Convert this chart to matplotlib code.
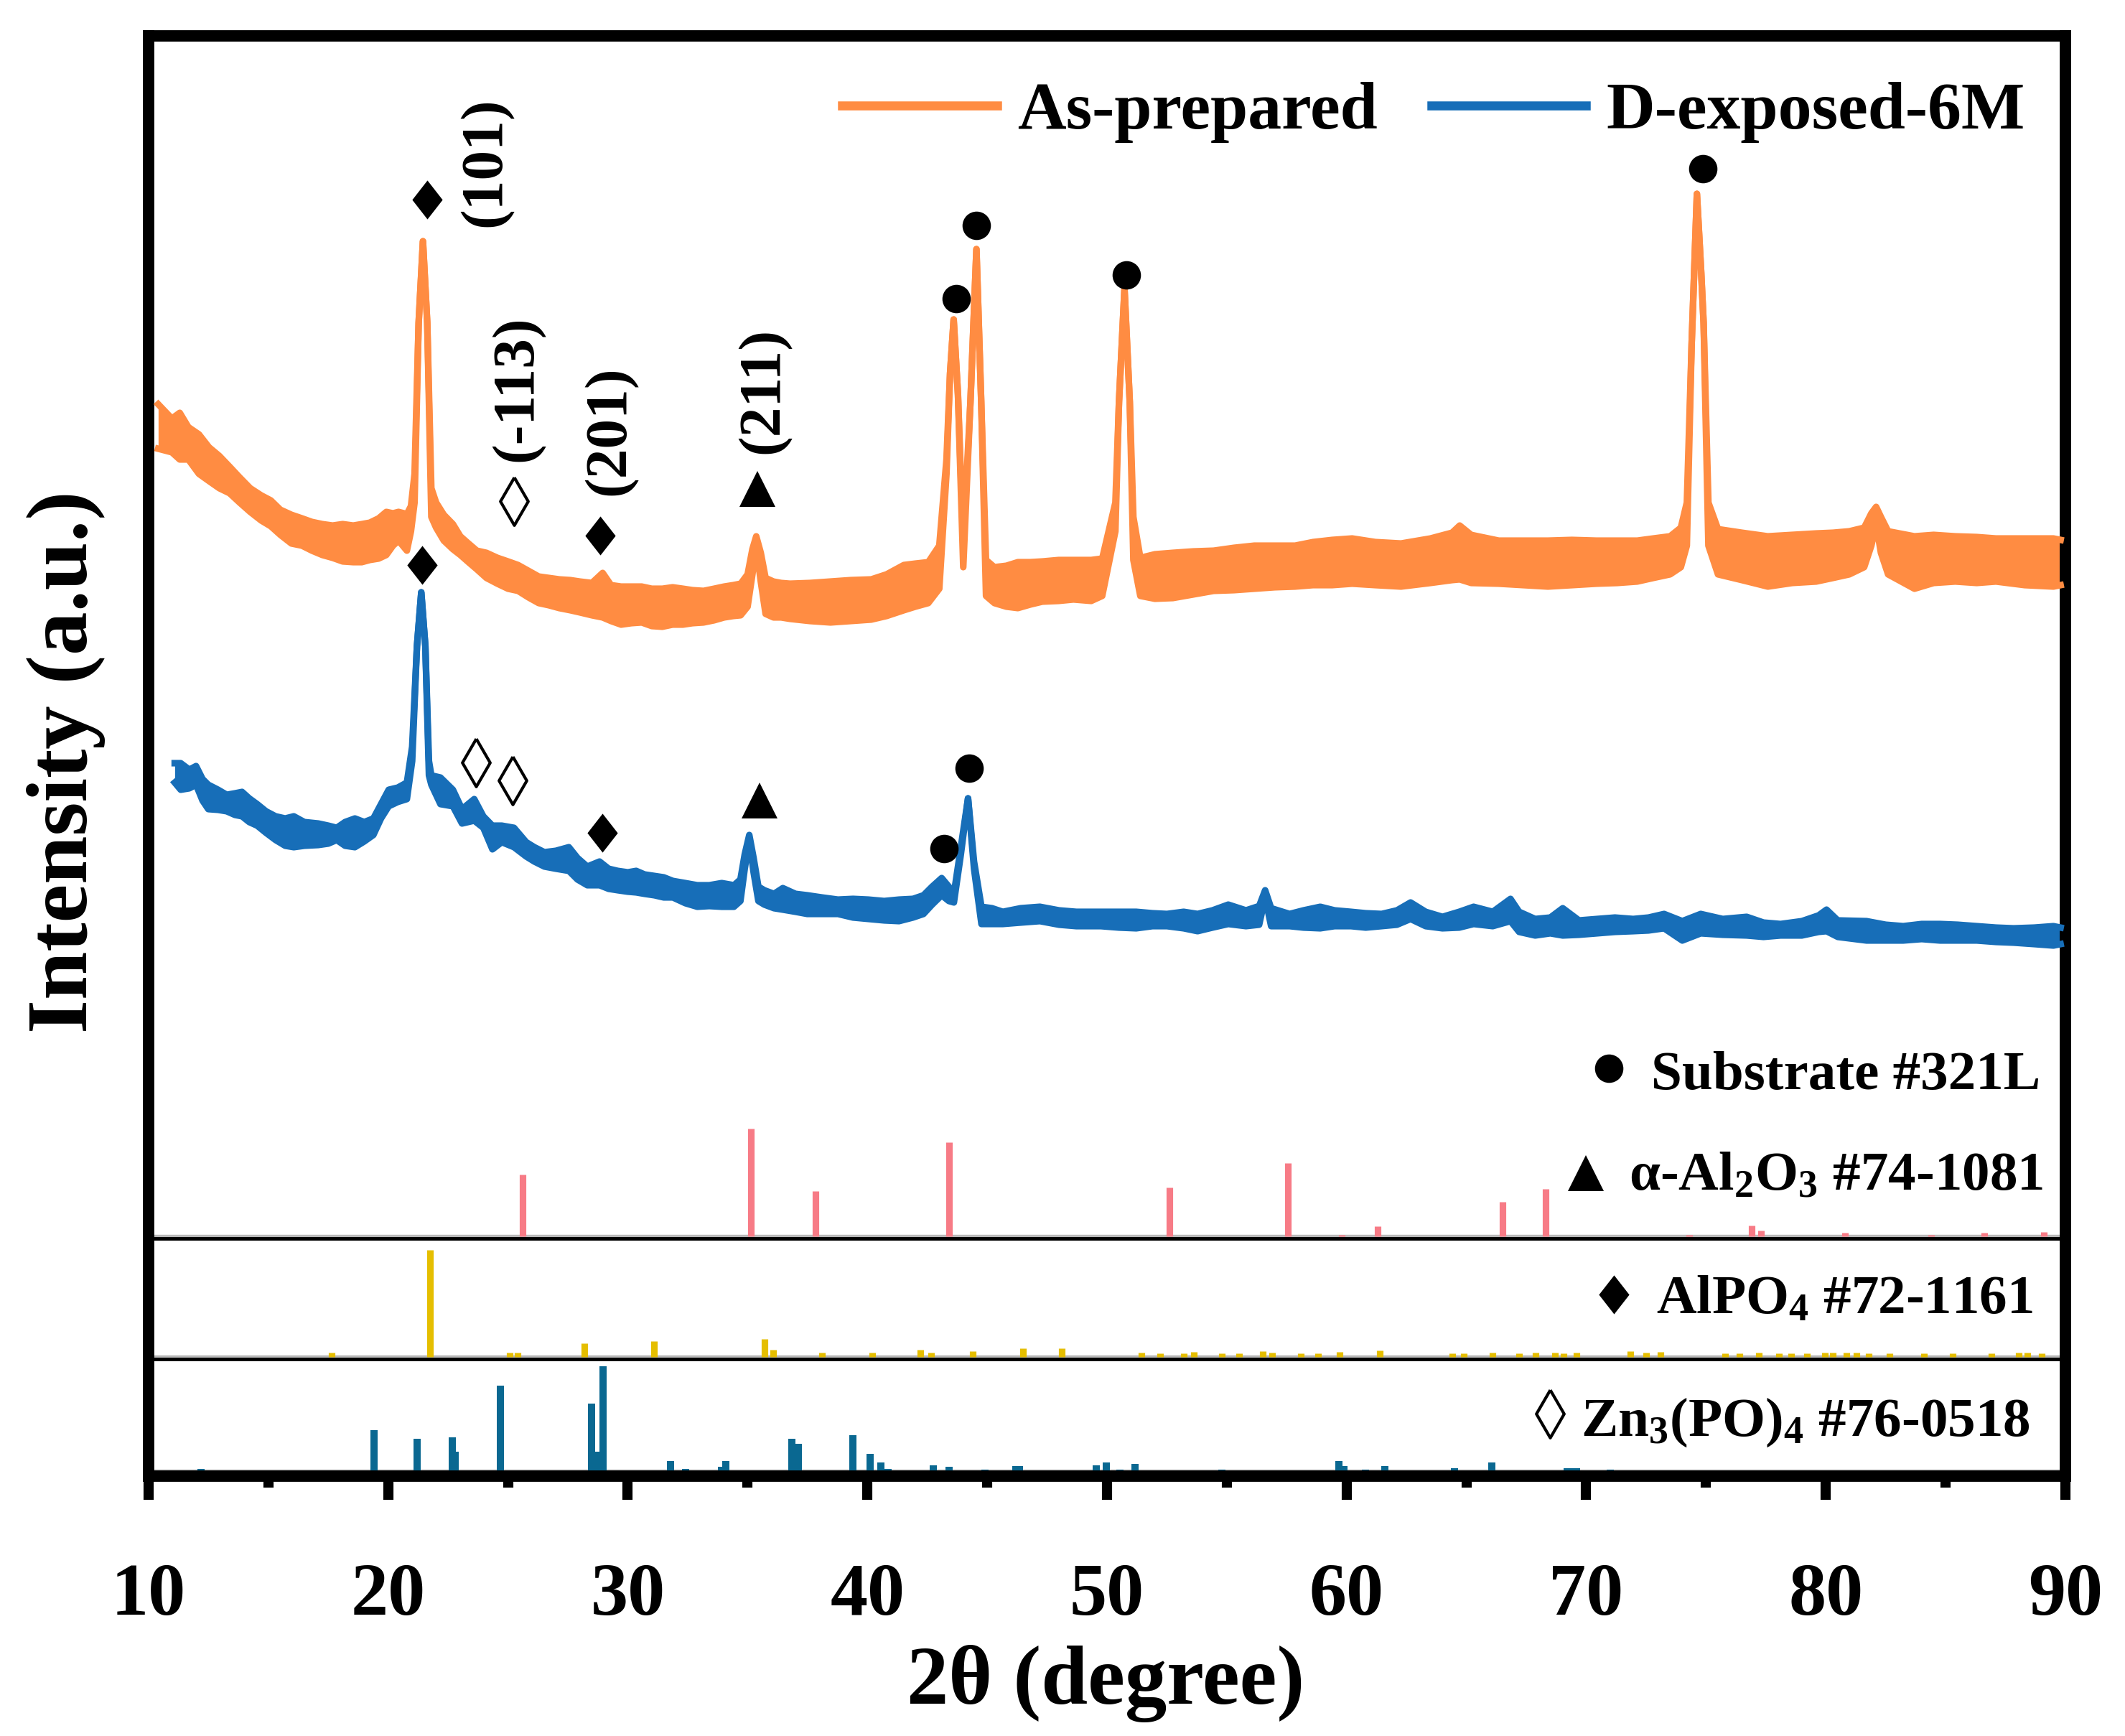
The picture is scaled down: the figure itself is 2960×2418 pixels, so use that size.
import numpy as np
import matplotlib.pyplot as plt
from matplotlib.lines import Line2D

plt.rcParams['font.family'] = 'Liberation Serif'
plt.rcParams['font.weight'] = 'bold'
plt.rcParams['mathtext.default'] = 'regular'

as_2theta = [10.4, 10.97, 11.3, 11.66, 12.1, 12.52, 12.95, 13.38, 13.8, 14.24,
             14.7, 15.1, 15.5, 15.96, 16.4, 16.82, 17.25, 17.68, 18.1, 18.54,
             18.9, 19.23, 19.6, 19.92, 20.2, 20.43, 20.78, 20.95, 21.1, 21.27,
             21.45, 21.63, 21.8, 22.0, 22.32, 22.7, 23.01, 23.35, 23.7, 24.1,
             24.56, 25.0, 25.42, 25.85, 26.28, 26.7, 27.14, 27.6, 28.0, 28.5,
             28.95, 29.3, 29.72, 30.15, 30.58, 31.0, 31.44, 31.87, 32.3, 32.7,
             33.16, 33.6, 34.02, 34.4, 34.71, 35.0, 35.2, 35.36, 35.55, 35.75,
             36.08, 36.4, 36.77, 37.6, 38.46, 39.3, 40.16, 40.8, 41.52, 42.0,
             42.54, 43.0, 43.3, 43.45, 43.6, 43.78, 44.0, 44.3, 44.55, 44.75,
             44.95, 45.3, 45.8, 46.28, 46.8, 47.3, 47.98, 48.6, 49.34, 49.8,
             50.35, 50.5, 50.73, 50.95, 51.1, 51.39, 52.0, 52.75, 53.6, 54.45,
             55.3, 56.15, 57.0, 57.85, 58.6, 59.4, 60.23, 61.2, 62.27, 63.5,
             64.4, 64.72, 65.2, 66.35, 67.4, 68.4, 69.4, 70.43, 71.3, 72.13,
             72.8, 73.5, 73.95, 74.2, 74.4, 74.62, 74.8, 74.9, 75.1, 75.5,
             76.5, 77.58, 78.6, 79.6, 80.3, 80.98, 81.6, 81.9, 82.1, 82.3,
             82.6, 83.7, 84.5, 85.4, 86.3, 87.1, 88.3, 89.5, 89.8]
as_hi = [115.9, 113.9, 114.7, 112.7, 111.7, 109.9, 108.7, 107.2, 105.7, 104.2,
         103.2, 102.5, 101.2, 100.5, 100.0, 99.5, 99.2, 99.0, 99.2, 99.0,
         99.2, 99.4, 100.0, 100.9, 100.7, 100.9, 100.6, 101.7, 106.2, 127.2,
         138.6, 127.2, 104.2, 102.2, 100.5, 99.2, 97.5, 96.5, 95.5, 95.2,
         94.5, 94.0, 93.5, 92.7, 91.9, 91.7, 91.5, 91.4, 91.2, 91.0,
         92.4, 90.7, 90.5, 90.5, 90.5, 90.2, 90.2, 90.4, 90.2, 90.0,
         89.9, 90.2, 90.5, 90.7, 90.9, 92.2, 95.7, 97.5, 95.2, 91.7,
         91.2, 91.0, 90.9, 91.0, 91.2, 91.4, 91.5, 92.2, 93.5, 93.7,
         93.9, 96.2, 108.2, 120.2, 127.7, 117.2, 96.7, 116.2, 137.5, 116.2,
         94.2, 93.2, 93.4, 93.9, 93.9, 94.0, 94.2, 94.2, 94.2, 94.4,
         102.2, 116.2, 132.0, 116.2, 100.2, 94.5, 95.0, 95.2, 95.4, 95.5,
         95.9, 96.2, 96.2, 96.2, 96.7, 97.0, 97.2, 96.7, 96.5, 97.2,
         98.0, 99.0, 97.7, 96.9, 96.9, 96.9, 97.0, 96.9, 96.9, 96.9,
         97.2, 97.5, 98.7, 102.2, 124.2, 145.2, 134.2, 127.2, 102.2, 98.5,
         98.0, 97.5, 97.7, 97.9, 98.0, 98.2, 98.7, 100.7, 101.6, 100.2,
         98.2, 97.5, 97.7, 97.5, 97.4, 97.2, 97.2, 97.2, 97.0]
as_lo = [109.7, 109.2, 108.2, 108.2, 106.2, 105.2, 104.2, 103.5, 102.2, 100.9,
         99.7, 98.9, 97.7, 96.5, 96.2, 95.5, 94.9, 94.5, 94.0, 93.9,
         93.9, 94.2, 94.4, 94.9, 96.2, 96.9, 95.5, 98.2, 102.2, 127.2,
         138.6, 127.2, 100.2, 98.7, 96.9, 95.7, 94.9, 93.9, 92.9, 91.7,
         90.9, 90.2, 89.9, 89.0, 88.2, 87.9, 87.5, 87.2, 86.9, 86.5,
         86.2, 85.7, 85.2, 85.4, 85.5, 85.0, 84.9, 85.2, 85.2, 85.4,
         85.5, 85.8, 86.2, 86.4, 86.5, 87.7, 92.2, 96.0, 91.2, 86.7,
         86.2, 86.2, 86.0, 85.7, 85.5, 85.7, 85.9, 86.4, 87.2, 87.7,
         88.2, 90.2, 106.2, 120.2, 127.7, 117.2, 93.2, 116.2, 137.5, 116.2,
         89.2, 88.2, 87.7, 87.5, 88.0, 88.4, 88.5, 88.7, 88.5, 89.2,
         98.2, 116.2, 132.0, 116.2, 94.2, 89.2, 88.8, 88.9, 89.4, 89.9,
         90.0, 90.2, 90.4, 90.5, 90.7, 90.7, 90.9, 90.7, 90.5, 91.0,
         91.4, 91.5, 91.0, 90.9, 90.7, 90.5, 90.7, 90.9, 91.0, 91.2,
         91.7, 92.2, 93.2, 96.2, 124.2, 145.2, 134.2, 127.2, 96.2, 92.2,
         91.4, 90.5, 91.0, 91.2, 91.7, 92.2, 93.2, 96.2, 99.2, 95.2,
         92.2, 90.2, 91.0, 91.2, 91.0, 91.2, 90.7, 90.5, 90.7]

d6_2theta = [11.09, 11.34, 11.7, 11.98, 12.25, 12.49, 12.9, 13.26, 13.6, 13.9,
             14.2, 14.53, 14.9, 15.3, 15.7, 16.06, 16.5, 17.08, 17.5, 17.85,
             18.2, 18.61, 19.0, 19.38, 19.7, 20.02, 20.4, 20.78, 21.0, 21.2,
             21.38, 21.55, 21.7, 21.8, 22.18, 22.7, 23.08, 23.59, 23.97, 24.35,
             24.74, 25.25, 25.76, 26.1, 26.52, 27.0, 27.54, 27.9, 28.31, 28.82,
             29.2, 29.58, 30.0, 30.35, 30.7, 31.11, 31.5, 31.88, 32.4, 32.9,
             33.4, 33.92, 34.43, 34.7, 34.88, 35.07, 35.25, 35.45, 35.7, 36.1,
             36.47, 37.0, 37.49, 38.1, 38.77, 39.4, 40.04, 40.7, 41.32, 41.9,
             42.34, 42.7, 43.1, 43.4, 43.61, 43.9, 44.2, 44.45, 44.76, 45.2,
             45.65, 46.4, 47.2, 48.0, 48.72, 49.74, 50.5, 51.22, 51.9, 52.5,
             53.2, 53.78, 54.4, 55.06, 55.8, 56.35, 56.6, 56.85, 57.62, 58.2,
             58.9, 59.5, 60.18, 60.8, 61.46, 62.1, 62.67, 63.3, 64.0, 64.7,
             65.3, 66.1, 66.84, 67.2, 67.87, 68.5, 69.02, 69.7, 70.43, 71.2,
             71.96, 72.6, 73.25, 74.01, 74.78, 75.7, 76.7, 77.4, 78.11, 79.0,
             79.7, 80.03, 80.5, 81.7, 82.5, 83.23, 84.0, 84.77, 85.5, 86.3,
             87.1, 87.84, 88.7, 89.5, 89.8]
d6_hi = [65.9, 65.9, 65.0, 65.5, 63.7, 62.9, 62.2, 61.5, 61.7, 61.9,
         61.0, 60.2, 59.2, 58.5, 58.2, 58.5, 57.7, 57.5, 57.2, 56.9,
         57.7, 58.2, 57.7, 58.2, 60.2, 62.2, 62.5, 63.2, 68.2, 82.2,
         89.7, 82.2, 66.2, 64.2, 63.9, 62.2, 59.5, 60.9, 58.5, 57.2,
         57.2, 56.9, 54.9, 54.2, 53.5, 53.7, 54.2, 52.7, 51.5, 52.2,
         51.2, 50.9, 50.7, 50.9, 50.4, 50.2, 50.0, 49.5, 49.2, 48.9,
         48.9, 49.2, 48.9, 49.7, 53.2, 55.9, 52.7, 48.7, 48.2, 47.7,
         48.5, 47.7, 47.5, 47.2, 46.9, 47.0, 46.9, 46.7, 46.9, 47.0,
         47.5, 48.7, 49.9, 48.7, 47.7, 54.2, 61.0, 52.2, 45.9, 45.7,
         45.2, 45.7, 45.9, 45.4, 45.2, 45.2, 45.2, 45.2, 45.0, 44.9,
         45.2, 44.9, 45.4, 46.2, 45.4, 46.0, 48.2, 45.7, 44.9, 45.4,
         45.9, 45.4, 45.2, 45.0, 44.9, 45.4, 46.5, 45.2, 44.5, 45.2,
         45.9, 45.2, 47.0, 45.2, 44.2, 44.4, 45.7, 44.0, 44.2, 44.4,
         44.2, 44.4, 44.9, 43.9, 44.9, 44.2, 44.5, 43.7, 43.5, 43.9,
         44.7, 45.5, 44.0, 43.9, 43.4, 43.2, 43.5, 43.5, 43.4, 43.2,
         43.0, 42.9, 43.0, 43.2, 43.0]
d6_lo = [63.2, 62.2, 62.4, 62.9, 60.7, 59.5, 59.4, 59.2, 58.7, 58.5,
         57.7, 57.2, 56.2, 55.2, 54.4, 54.2, 54.4, 54.5, 54.7, 55.2,
         54.4, 54.2, 55.0, 55.9, 58.2, 59.9, 60.5, 60.9, 66.2, 82.2,
         89.7, 82.2, 64.2, 62.9, 60.2, 59.9, 57.5, 57.9, 56.9, 53.9,
         54.9, 54.2, 52.9, 52.2, 51.5, 51.2, 50.9, 49.7, 48.9, 48.9,
         48.4, 48.2, 48.0, 47.9, 47.7, 47.5, 47.2, 47.2, 46.4, 45.9,
         46.0, 45.9, 45.9, 46.7, 51.2, 55.2, 50.7, 46.7, 46.2, 45.7,
         45.5, 45.2, 44.9, 44.9, 44.9, 44.4, 44.2, 44.0, 43.9, 44.4,
         44.9, 46.2, 47.5, 46.7, 46.5, 53.2, 61.0, 51.2, 43.5, 43.5,
         43.5, 43.7, 43.9, 43.4, 43.2, 43.2, 43.0, 42.9, 43.2, 43.2,
         42.9, 42.5, 43.0, 43.5, 43.2, 43.4, 47.2, 43.2, 43.2, 43.0,
         42.9, 43.2, 43.2, 43.0, 43.2, 43.4, 44.2, 43.2, 42.9, 43.0,
         43.5, 43.2, 43.9, 42.4, 41.9, 42.2, 41.9, 42.0, 42.2, 42.4,
         42.5, 42.6, 42.9, 41.2, 42.2, 42.0, 41.9, 41.7, 41.9, 41.9,
         42.4, 42.5, 41.7, 41.2, 41.2, 41.2, 41.4, 41.2, 41.2, 41.2,
         41.0, 40.9, 40.7, 40.5, 40.7]

# reference cards (stick positions and relative heights)
al2o3_pos = [25.6, 35.15, 37.84, 43.4, 52.6, 57.55, 59.8, 61.3, 66.5, 68.3,
             74.3, 76.9, 77.3, 80.8, 84.4, 86.6, 89.1]
al2o3_int = [8.6, 15.0, 6.3, 13.1, 6.8, 10.2, 0.2, 1.4, 4.8, 6.6,
             0.2, 1.5, 0.8, 0.5, 0.2, 0.5, 0.6]
alpo4_pos = [17.63, 21.75, 25.07, 25.4, 28.2, 31.1, 35.7, 36.07, 38.1, 40.2,
             42.2, 42.66, 44.4, 46.5, 48.1, 51.45, 52.23, 53.2, 53.63, 54.8,
             55.5, 56.5, 56.9, 58.1, 58.8, 59.7, 61.4, 64.4, 64.9, 66.1,
             67.2, 67.9, 68.7, 69.06, 69.6, 71.85, 72.5, 73.1, 75.8, 76.4,
             77.2, 78.05, 78.55, 79.2, 79.96, 80.3, 80.85, 81.27, 81.8, 82.66,
             84.1, 85.3, 86.9, 88.05, 88.4, 89.0]
alpo4_int = [0.6, 14.9, 0.6, 0.6, 1.9, 2.2, 2.5, 1.0, 0.6, 0.6,
             1.0, 0.6, 0.8, 1.2, 1.2, 0.6, 0.5, 0.5, 0.7, 0.5,
             0.5, 0.8, 0.6, 0.5, 0.5, 0.7, 0.9, 0.5, 0.5, 0.6,
             0.5, 0.6, 0.6, 0.5, 0.6, 0.8, 0.6, 0.7, 0.5, 0.5,
             0.6, 0.5, 0.5, 0.5, 0.6, 0.6, 0.6, 0.6, 0.5, 0.5,
             0.5, 0.5, 0.5, 0.6, 0.6, 0.5]
zn_pos = [12.2, 19.4, 21.2, 22.66, 22.8, 24.67, 28.5, 28.73, 28.97, 31.78,
          32.4, 33.9, 34.1, 36.85, 37.13, 39.4, 40.1, 40.56, 40.86, 42.75,
          43.4, 44.9, 46.2, 46.35, 49.55, 49.96, 50.54, 51.16, 54.8, 59.68,
          59.9, 60.8, 61.6, 64.5, 66.07, 69.2, 69.4, 69.6, 71.0]
zn_int = [0.3, 5.7, 4.5, 4.7, 2.7, 11.9, 9.4, 2.7, 14.6, 1.4,
          0.3, 0.6, 1.4, 4.5, 3.8, 5.0, 2.4, 1.2, 0.3, 0.85,
          0.6, 0.2, 0.7, 0.7, 0.85, 1.2, 0.2, 1.0, 0.2, 1.45,
          0.7, 0.2, 0.7, 0.4, 1.2, 0.4, 0.4, 0.4, 0.2]

# phase markers above the peaks
as_mark_x = [21.64, 25.25, 28.86, 35.4, 43.7, 44.56, 50.8, 74.87]
as_mark_y = [144.4, 102.4, 97.6, 104.1, 130.6, 140.8, 133.9, 148.7]
as_mark_kind = ['alpo4', 'zn', 'alpo4', 'al2o3', 'sub', 'sub', 'sub', 'sub']
d6_mark_x = [21.43, 23.66, 25.2, 28.94, 35.5, 43.2, 44.25]
d6_mark_y = [93.5, 66.0, 63.5, 56.2, 60.7, 54.0, 65.2]
d6_mark_kind = ['alpo4', 'zn', 'zn', 'alpo4', 'al2o3', 'sub', 'sub']
hkl_labels = ['(101)', '(-113)', '(201)', '(211)']
hkl_x = [24.08, 25.4, 29.27, 35.68]
hkl_y = [149.6, 118.1, 112.2, 117.8]

c_as = '#FF8C42'
c_d6 = '#176EB8'
c_al2o3 = '#F77B86'
c_alpo4 = '#E5BE00'
c_zn = '#0A6891'

diamond = [(0, 1), (0.78, 0), (0, -1), (-0.78, 0), (0, 1)]
lozenge = [(0, 1), (0.58, 0), (0, -1), (-0.58, 0), (0, 1)]
mstyle = {
    'sub': dict(marker='o', ms=9.5, mfc='k', mec='k', mew=0),
    'al2o3': dict(marker='^', ms=12, mfc='k', mec='k', mew=0),
    'alpo4': dict(marker=diamond, ms=13, mfc='k', mec='k', mew=0),
    'zn': dict(marker=lozenge, ms=16, mfc='white', mec='k', mew=1.0),
}

W, H = 2961, 2418
fig = plt.figure(figsize=(W / 300, H / 300), dpi=300)
left, width = 207 / W, (2877 - 207) / W
ax_top = fig.add_axes([left, 1 - 1728 / H, width, (1728 - 50) / H])
ax_mid = fig.add_axes([left, 1 - 1896 / H, width, (1896 - 1728) / H], sharex=ax_top)
ax_bot = fig.add_axes([left, 1 - 2056 / H, width, (2056 - 1896) / H], sharex=ax_top)

ax_top.set_ylim(-0.6, 167.2)
ax_mid.set_ylim(-0.6, 16.2)
ax_bot.set_ylim(-0.7, 15.3)
ax_top.set_xlim(10, 90)

for ax in (ax_top, ax_mid, ax_bot):
    ax.set_yticks([])
    for side in ('left', 'right'):
        ax.spines[side].set_linewidth(3.8)
    ax.spines['bottom'].set_linewidth(2.4)
    ax.spines['top'].set_visible(False)
    for sp in ax.spines.values():
        sp.set_capstyle('projecting')
    ax.axhline(0, color='#b9b9b9', lw=1.3, zorder=1)
ax_top.spines['top'].set_visible(True)
ax_top.spines['top'].set_linewidth(3.8)
ax_bot.spines['bottom'].set_linewidth(3.8)

for ax in (ax_top, ax_mid):
    ax.tick_params(which='both', bottom=False, labelbottom=False)
ax_bot.set_xticks(np.arange(10, 91, 10))
ax_bot.set_xticks(np.arange(15, 90, 10), minor=True)
ax_bot.tick_params(axis='x', which='major', direction='out', length=8, width=3.4,
                   labelsize=25, pad=21)
ax_bot.tick_params(axis='x', which='minor', direction='out', length=3.8, width=3.4)

# measured patterns
for x, hi, lo, c in ((as_2theta, as_hi, as_lo, c_as), (d6_2theta, d6_hi, d6_lo, c_d6)):
    ax_top.fill_between(x, lo, hi, color=c, lw=0, zorder=2)
    ax_top.plot(x, hi, color=c, lw=2.2, zorder=3, solid_joinstyle='round')
    ax_top.plot(x, lo, color=c, lw=2.2, zorder=3, solid_joinstyle='round')

# reference sticks
ax_top.vlines(al2o3_pos, 0, al2o3_int, color=c_al2o3, lw=2.2, zorder=2)
ax_mid.vlines(alpo4_pos, 0, alpo4_int, color=c_alpo4, lw=2.2, zorder=2)
ax_bot.vlines(zn_pos, 0, zn_int, color=c_zn, lw=2.4, zorder=2)

for xs, ys, kinds in ((as_mark_x, as_mark_y, as_mark_kind), (d6_mark_x, d6_mark_y, d6_mark_kind)):
    for x, y, k in zip(xs, ys, kinds):
        ax_top.plot([x], [y], ls='none', zorder=5, clip_on=False, **mstyle[k])

for t, x, y in zip(hkl_labels, hkl_x, hkl_y):
    ax_top.text(x, y, t, rotation=90, ha='center', va='center', fontsize=20)

# phase legend on the right
ax_top.plot([70.94], [23.4], ls='none', **mstyle['sub'])
ax_top.text(88.95, 20.5, 'Substrate #321L', ha='right', va='baseline', fontsize=18.5)
ax_top.plot([70.0], [8.8], ls='none', **mstyle['al2o3'])
ax_top.text(89.07, 6.5, r'α-Al$_2$O$_3$ #74-1081', ha='right', va='baseline', fontsize=18.5)
ax_mid.plot([71.15], [8.7], ls='none', **mstyle['alpo4'])
ax_mid.text(88.65, 6.1, r'AlPO$_4$ #72-1161', ha='right', va='baseline', fontsize=18.5)
ax_bot.plot([68.5], [8.0], ls='none', **mstyle['zn'])
ax_bot.text(88.53, 4.9, r'Zn$_3$(PO)$_4$ #76-0518', ha='right', va='baseline', fontsize=18.5)

handles = [Line2D([], [], color=c_as, lw=3), Line2D([], [], color=c_d6, lw=3)]
ax_top.legend(handles, ['As-prepared', 'D-exposed-6M'], loc='upper right',
              bbox_to_anchor=(0.979, 0.962), ncol=2, frameon=False, fontsize=22.5,
              handlelength=2.3, handletextpad=0.3, columnspacing=0.8,
              borderpad=0, borderaxespad=0)

fig.text(0.031, 0.561, 'Intensity (a.u.)', rotation=90, ha='center', va='center', fontsize=29)
fig.text(0.520, 0.030, '2θ (degree)', ha='center', va='center', fontsize=28)

fig.savefig('out.png', dpi=300)
